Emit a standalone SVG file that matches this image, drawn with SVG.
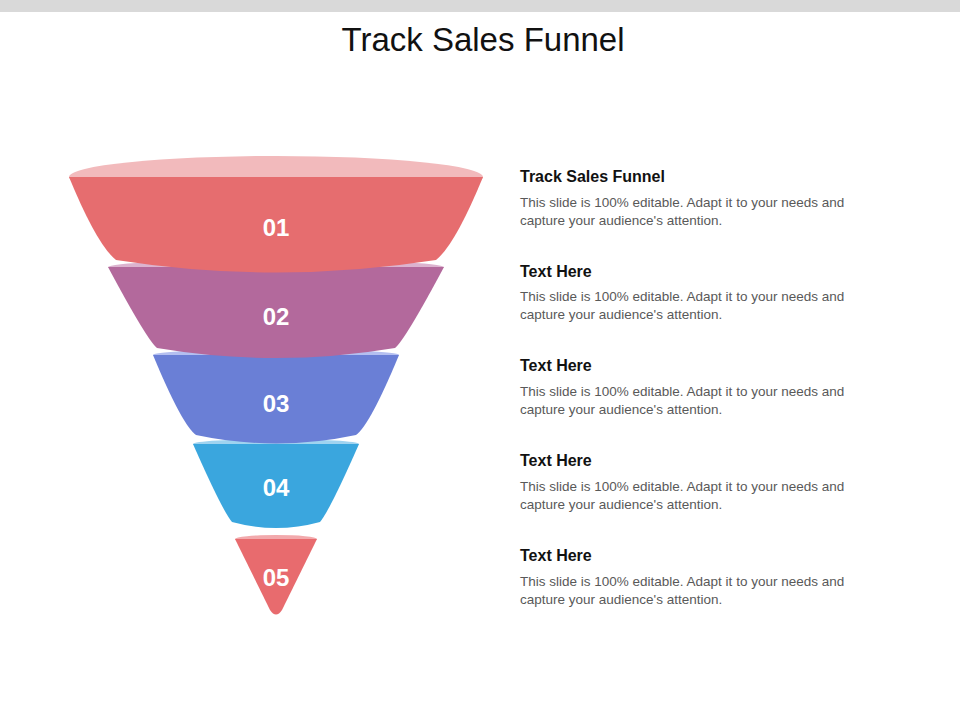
<svg xmlns="http://www.w3.org/2000/svg" width="960" height="720" viewBox="0 0 960 720">
<style>
text{font-family:"Liberation Sans",Arial,sans-serif}
.n{font-size:24px;font-weight:bold;fill:#fff;text-anchor:middle}
.h{font-size:16px;font-weight:bold;fill:#111}
.b{font-size:13.5px;fill:#595959}
</style>
<rect width="960" height="720" fill="#fff"/>
<rect width="960" height="12" fill="#d9d9d9"/>
<text x="483" y="51" font-size="33" text-anchor="middle" fill="#111">Track Sales Funnel</text>
<g id="seg5"><ellipse cx="276" cy="539" rx="41" ry="4" fill="#f2a9ac"/><path d="M235,539 L317,539 L282,610 Q276,619 270,610 Z" fill="#e86b6e"/><text class="n" x="276" y="586">05</text></g>
<g id="seg4"><ellipse cx="276" cy="444" rx="83" ry="5" fill="#9fd3f0"/><path d="M193,444 L359,444 Q330,510 320,522 Q276,534 232,522 Q222,510 193,444 Z" fill="#3aa6de"/><text class="n" x="276" y="496">04</text></g>
<g id="seg3"><ellipse cx="276" cy="355" rx="123" ry="6" fill="#b4bff0"/><path d="M153,355 L399,355 Q370,425 356,435 Q276,452 196,435 Q182,425 153,355 Z" fill="#6a7fd6"/><text class="n" x="276" y="412">03</text></g>
<g id="seg2"><ellipse cx="276" cy="267" rx="168" ry="7" fill="#dcb3cf"/><path d="M108,267 L444,267 Q405,340 395,348 Q276,368 157,348 Q147,340 108,267 Z" fill="#b3699c"/><text class="n" x="276" y="325">02</text></g>
<g id="seg1"><ellipse cx="276" cy="177" rx="207" ry="21" fill="#f2babc"/><path d="M69,177 L483,177 Q455,245 436,260 Q276,285 116,260 Q97,245 69,177 Z" fill="#e66d6f"/><text class="n" x="276" y="236">01</text></g>
<g id="texts">
<text class="h" x="520" y="182">Track Sales Funnel</text>
<text class="b" x="520" y="207">This slide is 100% editable. Adapt it to your needs and</text>
<text class="b" x="520" y="225">capture your audience's attention.</text>
<text class="h" x="520" y="277">Text Here</text>
<text class="b" x="520" y="301">This slide is 100% editable. Adapt it to your needs and</text>
<text class="b" x="520" y="319">capture your audience's attention.</text>
<text class="h" x="520" y="371">Text Here</text>
<text class="b" x="520" y="396">This slide is 100% editable. Adapt it to your needs and</text>
<text class="b" x="520" y="414">capture your audience's attention.</text>
<text class="h" x="520" y="466">Text Here</text>
<text class="b" x="520" y="491">This slide is 100% editable. Adapt it to your needs and</text>
<text class="b" x="520" y="509">capture your audience's attention.</text>
<text class="h" x="520" y="561">Text Here</text>
<text class="b" x="520" y="586">This slide is 100% editable. Adapt it to your needs and</text>
<text class="b" x="520" y="604">capture your audience's attention.</text>
</g>
<g id="connectors"/>
</svg>
